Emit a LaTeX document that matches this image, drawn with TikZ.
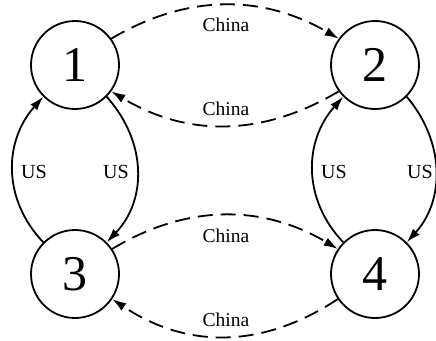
\documentclass[tikz,border=0pt]{standalone}
\usepackage{fontspec}
\setmainfont{Liberation Serif}
\usetikzlibrary{arrows.meta}
\begin{document}
\begin{tikzpicture}[x=1pt,y=-1pt,
  state/.style={circle,draw,line width=1.8pt,minimum size=88pt,inner sep=0pt,
    font=\fontsize{50}{50}\selectfont},
  us/.style={line width=1.8pt,-{Latex[length=14pt,width=9pt]}},
  cn/.style={line width=1.8pt,dash pattern=on 15pt off 8pt,-{Latex[length=14pt,width=9pt]}},
  lab/.style={anchor=base,inner sep=0pt,font=\fontsize{19.5}{19.5}\selectfont},
  uslab/.style={anchor=base,inner sep=0pt,font=\fontsize{20}{20}\selectfont}]
\useasboundingbox (0,0) rectangle (436,340);
\node[state] (n1) at (75,65) {1};
\node[state] (n2) at (375,65) {2};
\node[state] (n3) at (75,274) {3};
\node[state] (n4) at (375,274) {4};
% China arrows
\draw[cn] (n1.36) .. controls (187,-6) and (262,-6) .. (n2.144);
\draw[cn] (n2.216) .. controls (262,137) and (187,137) .. (n1.-36);
\draw[cn] (n3.34) .. controls (187,204) and (262,204) .. (n4.146);
\draw[cn] (n4.214) .. controls (262,349) and (187,349) .. (n3.-34);
% US arrows
\draw[us] (n3.135) .. controls (3,200) and (3,142) .. (n1.225);
\draw[us] (n1.-45) .. controls (147,142) and (147,200) .. (n3.45);
\draw[us] (n4.135) .. controls (303,200) and (303,142) .. (n2.225);
\draw[us] (n2.-45) .. controls (445,142) and (445,200) .. (n4.45);
% labels
\node[lab] (c1) at (226,31) {China};
\node[lab] (c2) at (226,115) {China};
\node[lab] (c3) at (226,242) {China};
\node[lab] (c4) at (226,326) {China};
\node[uslab] (u1) at (34,178) {US};
\node[uslab] (u2) at (116,178) {US};
\node[uslab] (u3) at (334,178) {US};
\node[uslab] (u4) at (420,178) {US};
\end{tikzpicture}
\end{document}
